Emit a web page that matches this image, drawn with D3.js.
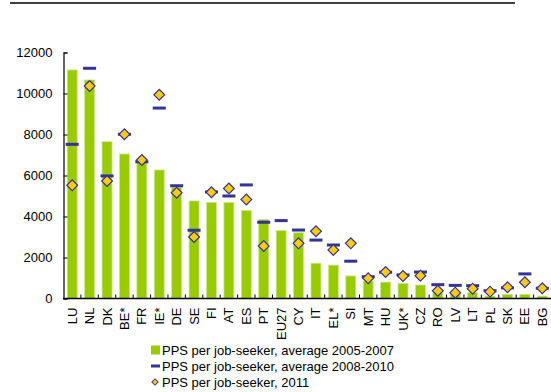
<!DOCTYPE html>
<html>
<head>
<meta charset="utf-8">
<script src="https://cdn.jsdelivr.net/npm/d3@7"></script>
<style>
  body { margin: 0; background: #fff; }
  svg { display: block; font-family: "Liberation Sans", Arial, sans-serif; }
</style>
</head>
<body>
<svg id="chart" width="551" height="392"></svg>
<script>
// Countries, ordered by the 2005-2007 average
const countries = ["LU","NL","DK","BE*","FR","IE*","DE","SE","FI","AT","ES","PT","EU27","CY",
  "IT","EL*","SI","MT","HU","UK*","CZ","RO","LV","LT","PL","SK","EE","BG"];

// PPS per job-seeker, average 2005-2007 (bars)
const avg0507 = [11150,10660,7650,7050,6710,6270,5420,4760,4690,4690,4300,3860,3310,3210,
  1720,1630,1100,850,800,740,660,280,200,285,120,205,205,120];

// PPS per job-seeker, average 2008-2010 (dashes)
const avg0810 = [7520,11230,5980,8010,6670,9290,5500,3330,5200,5000,5540,3720,3800,3340,
  2850,2610,1820,1065,1280,1150,1290,675,640,625,380,520,1200,500];

// PPS per job-seeker, 2011 (diamonds); no figure for EU27
const val2011 = [5520,10370,5730,8010,6760,9940,5160,3000,5180,5370,4830,2560,null,2690,
  3280,2370,2690,985,1290,1100,1115,380,285,480,335,545,790,497];

const yTicks = [0,2000,4000,6000,8000,10000,12000];

const legendLabels = [
  "PPS per job-seeker, average 2005-2007",
  "PPS per job-seeker, average 2008-2010",
  "PPS per job-seeker, 2011"
];

const green = "#99cc00", navy = "#333399", gold = "#ffcc00";

const svg = d3.select("#chart");

// Rule across the top of the figure
svg.append("line")
  .attr("x1", 10).attr("x2", 515).attr("y1", 3).attr("y2", 3)
  .attr("stroke", "#000").attr("stroke-width", 1.3);

const x = d3.scaleBand().domain(countries).range([63.5, 551]).paddingInner(0).paddingOuter(0);
const y = d3.scaleLinear().domain([0, 12000]).range([298.5, 52.5]);

const barW = 10;

// Bars
svg.append("g").selectAll("rect")
  .data(countries.map((c, i) => ({c, v: avg0507[i]})))
  .join("rect")
  .attr("x", d => x(d.c) + x.bandwidth() / 2 - barW / 2)
  .attr("y", d => y(d.v))
  .attr("width", barW)
  .attr("height", d => y(0) - y(d.v))
  .attr("fill", green)
  .attr("stroke", "#cfe88f")
  .attr("stroke-width", 0.8);

// Y axis: ticks point into the plot
const yAxis = svg.append("g")
  .attr("transform", "translate(63.5,0)")
  .call(d3.axisRight(y).tickValues(yTicks).tickSize(4).tickFormat(d3.format("d")));
yAxis.select(".domain").attr("stroke", "#000").attr("stroke-width", 1.2);
yAxis.selectAll(".tick line").attr("stroke", "#000");
yAxis.selectAll(".tick text")
  .attr("x", -11).attr("text-anchor", "end")
  .attr("font-size", 13).attr("fill", "#000")
  .attr("font-family", "Liberation Sans, Arial, sans-serif");

// X axis: ticks between categories, labels rotated
const xAxisG = svg.append("g").attr("transform", `translate(0,${y(0)})`);
xAxisG.append("line")
  .attr("x1", 63).attr("x2", 551).attr("y1", 0).attr("y2", 0)
  .attr("stroke", "#000").attr("stroke-width", 1.4);
xAxisG.selectAll("line.sep")
  .data(countries.slice(1))
  .join("line")
  .attr("class", "sep")
  .attr("x1", d => x(d)).attr("x2", d => x(d))
  .attr("y1", -4).attr("y2", 0)
  .attr("stroke", "#000");
xAxisG.selectAll("text")
  .data(countries)
  .join("text")
  .attr("transform", d => `translate(${x(d) + x.bandwidth() / 2 + 4.5},9) rotate(-90)`)
  .attr("text-anchor", "end")
  .attr("font-size", 13)
  .attr("fill", "#000")
  .text(d => d);

// Dashes for 2008-2010 average
const dashW = 13, dashH = 3;
svg.append("g").selectAll("rect")
  .data(countries.map((c, i) => ({c, v: avg0810[i]})).filter(d => d.v != null))
  .join("rect")
  .attr("x", d => x(d.c) + x.bandwidth() / 2 - dashW / 2)
  .attr("y", d => y(d.v) - dashH / 2)
  .attr("width", dashW)
  .attr("height", dashH)
  .attr("fill", navy);

// Diamonds for 2011
const diamond = d3.symbol().type(d3.symbolSquare).size(58);
svg.append("g").selectAll("path")
  .data(countries.map((c, i) => ({c, v: val2011[i]})).filter(d => d.v != null))
  .join("path")
  .attr("d", diamond)
  .attr("transform", d => `translate(${x(d.c) + x.bandwidth() / 2},${y(d.v)}) rotate(45)`)
  .attr("fill", gold)
  .attr("stroke", navy)
  .attr("stroke-width", 1.2);

// Legend
const lg = svg.append("g").attr("transform", "translate(151,0)");
const rows = [350, 366, 382];
lg.append("rect").attr("x", 0).attr("y", rows[0] - 4.5).attr("width", 9).attr("height", 9).attr("fill", green);
lg.append("rect").attr("x", 0).attr("y", rows[1] - 1.5).attr("width", 9).attr("height", 3).attr("fill", navy);
lg.append("path")
  .attr("d", d3.symbol().type(d3.symbolSquare).size(20))
  .attr("transform", `translate(4,${rows[2]}) rotate(45)`)
  .attr("fill", gold).attr("stroke", navy).attr("stroke-width", 1);
lg.selectAll("text")
  .data(legendLabels)
  .join("text")
  .attr("x", 11)
  .attr("y", (d, i) => rows[i] + 4.5)
  .attr("font-size", 13)
  .attr("fill", "#000")
  .text(d => d);
</script>
</body>
</html>
